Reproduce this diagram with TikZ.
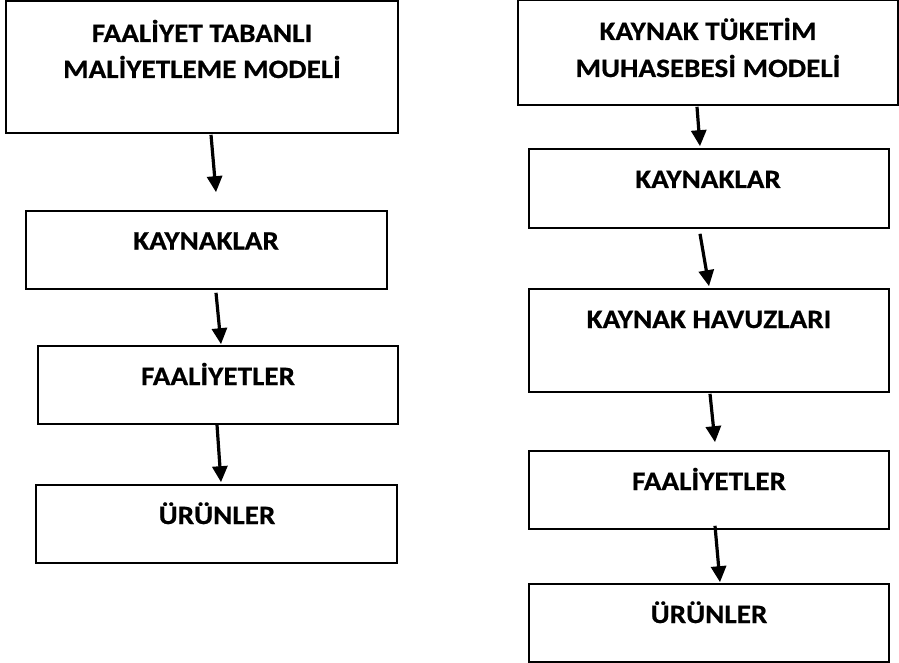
\documentclass[tikz,border=0pt]{standalone}
\usepackage{fontspec}
\setmainfont{Carlito}
\newfontfamily\lblfont[FakeStretch=1.1,BoldFeatures={FakeBold=0.6}]{Carlito}
\usetikzlibrary{arrows.meta}
\begin{document}
\begin{tikzpicture}[x=1pt,y=-1pt,
  box/.style={draw=black,line width=1.6pt,rectangle,inner sep=0pt},
  lbl/.style={font=\lblfont\bfseries\fontsize{26.5}{36.5}\selectfont,inner sep=0pt,anchor=base,align=center},
  arr/.style={line width=3.2pt,-{Triangle[width=15pt,length=16pt]}}]
\useasboundingbox (0,0) rectangle (899,663);
% left column
\node[box,minimum width=392pt,minimum height=132pt] (L1) at (202,67) {};
\node[box,minimum width=361pt,minimum height=78pt] (L2) at (206.5,250) {};
\node[box,minimum width=360pt,minimum height=78pt] (L3) at (218,385) {};
\node[box,minimum width=361pt,minimum height=78pt] (L4) at (216.5,524) {};
\node[lbl] (tL1a) at (202,42) {FAALİYET TABANLI};
\node[lbl] (tL1b) at (202,78) {MALİYETLEME MODELİ};
\node[lbl] (tL2) at (206,249.5) {KAYNAKLAR};
\node[lbl] (tL3) at (218,385) {FAALİYETLER};
\node[lbl] (tL4) at (217,524) {ÜRÜNLER};
% right column
\node[box,minimum width=380pt,minimum height=105pt] (R1) at (708,52.5) {};
\node[box,minimum width=360pt,minimum height=79pt] (R2) at (709,188.5) {};
\node[box,minimum width=360pt,minimum height=103pt] (R3) at (709,340.5) {};
\node[box,minimum width=360pt,minimum height=78pt] (R4) at (709,490) {};
\node[box,minimum width=360pt,minimum height=78pt] (R5) at (709,623) {};
\node[lbl] (tR1a) at (708,40) {KAYNAK TÜKETİM};
\node[lbl] (tR1b) at (708,77) {MUHASEBESİ MODELİ};
\node[lbl] (tR2) at (708,188) {KAYNAKLAR};
\node[lbl] (tR3) at (709,328) {KAYNAK HAVUZLARI};
\node[lbl] (tR4) at (709,490) {FAALİYETLER};
\node[lbl] (tR5) at (709,623) {ÜRÜNLER};
% arrows left
\draw[arr] ([xshift=9pt,yshift=-1pt]L1.south) -- ([xshift=9.5pt,yshift=18pt]L2.north);
\draw[arr] ([xshift=9.5pt,yshift=-3pt]L2.south) -- ([xshift=3pt,yshift=1pt]L3.north);
\draw[arr] ([xshift=-1pt,yshift=0pt]L3.south) -- ([xshift=4.5pt,yshift=2pt]L4.north);
% arrows right
\draw[arr] ([xshift=-11pt,yshift=-1pt]R1.south) -- ([xshift=-9pt,yshift=2pt]R2.north);
\draw[arr] ([xshift=-9pt,yshift=-5pt]R2.south) -- ([xshift=0pt,yshift=2pt]R3.north);
\draw[arr] ([xshift=1pt,yshift=-1pt]R3.south) -- ([xshift=6pt,yshift=8pt]R4.north);
\draw[arr] ([xshift=6pt,yshift=4pt]R4.south) -- ([xshift=11pt,yshift=1pt]R5.north);
\end{tikzpicture}
\end{document}
